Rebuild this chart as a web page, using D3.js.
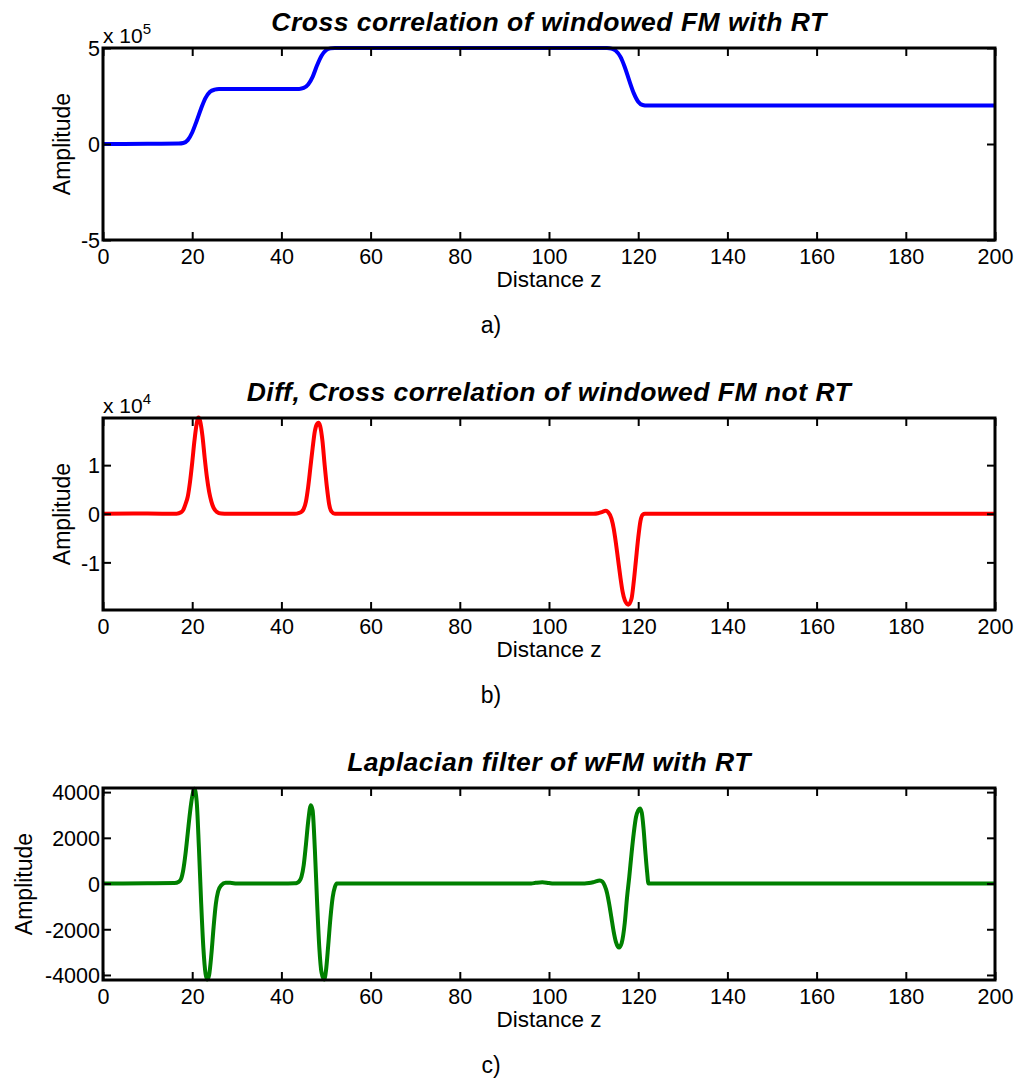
<!DOCTYPE html>
<html>
<head>
<meta charset="utf-8">
<script src="https://cdn.jsdelivr.net/npm/d3@7"></script>
<style>
  html, body { margin: 0; padding: 0; background: #fff; }
  svg { display: block; }
  text { font-family: "Liberation Sans", Arial, Helvetica, sans-serif; fill: #000; }
</style>
</head>
<body>
<svg id="fig" width="1021" height="1083"></svg>
<script>
// ---- data ----------------------------------------------------------------
const xTicks = [0, 20, 40, 60, 80, 100, 120, 140, 160, 180, 200];

// a) cross correlation (units of 1e5)
const crossZ = [0, 10, 17, 18, 19, 20, 21, 22, 23, 24, 25, 26, 30, 44, 45, 46, 47, 48, 49, 50, 51, 52, 60, 112, 113, 114, 115, 116, 117, 118, 119, 120, 121, 122, 200];
const crossAmp = [0, 0.01, 0.02, 0.05, 0.2, 0.6, 1.2, 1.85, 2.4, 2.72, 2.83, 2.86, 2.86, 2.87, 2.92, 3.1, 3.5, 4.1, 4.6, 4.88, 4.98, 5.0, 5.0, 5.0, 5.0, 4.97, 4.85, 4.55, 4.0, 3.3, 2.65, 2.2, 2.03, 2.0, 2.0];
const crossYTicks = [-5, 0, 5];

// b) difference of the cross correlation (units of 1e4)
const diffZ = [0, 10, 16.5, 17.5, 18, 18.5, 19, 19.5, 20, 20.5, 21, 21.4, 21.8, 22.3, 22.8, 23.3, 23.8, 24.3, 24.8, 25.5, 26.5, 28,
  43, 44, 44.5, 45, 45.5, 46, 46.5, 47, 47.5, 48, 48.3, 48.7, 49.2, 49.7, 50.2, 50.7, 51.2, 52,
  110, 111, 112, 112.7, 113.3, 114, 114.5, 115, 115.5, 116, 116.5, 117, 117.8, 118.5, 119, 119.5, 120, 120.5, 121, 121.5, 200];
const diffAmp = [0, 0.005, 0, 0.03, 0.08, 0.2, 0.35, 0.65, 1.05, 1.5, 1.85, 1.98, 1.9, 1.6, 1.15, 0.75, 0.45, 0.25, 0.12, 0.04, 0.005, 0,
  0, 0.02, 0.04, 0.1, 0.25, 0.55, 0.95, 1.35, 1.7, 1.85, 1.87, 1.8, 1.5, 1.0, 0.55, 0.2, 0.05, 0,
  0, 0.01, 0.04, 0.06, 0.03, -0.1, -0.3, -0.6, -0.95, -1.3, -1.6, -1.78, -1.87, -1.75, -1.4, -0.95, -0.5, -0.15, -0.02, 0, 0];
const diffYTicks = [-1, 0, 1];

// c) Laplacian filter output
const lapZ = [0, 10, 16, 17, 17.5, 18, 18.5, 19, 19.5, 20, 20.5, 21, 21.5, 22, 22.5, 23, 23.4, 23.8, 24.3, 24.8, 25.3, 25.8, 26.5, 27.5, 28.5, 30,
  40, 43, 43.5, 44, 44.5, 45, 45.5, 46, 46.6, 47, 47.5, 48, 48.5, 49, 49.6, 50, 50.5, 51, 51.5, 52, 52.4,
  60, 96, 97, 98.5, 100, 101, 108, 109, 110, 111.4, 112, 112.5, 113, 113.5, 114, 114.5, 115, 115.7, 116.3, 117, 117.5,
  118, 118.5, 119, 119.5, 120, 120.4, 120.8, 121.2, 121.6, 122, 122.3, 200];
const lapAmp = [0, 10, 20, 80, 200, 600, 1300, 2200, 3100, 3800, 4150, 3600, 1600, -800, -2800, -3950, -4200, -4000, -3100, -1900, -900, -350, -80, 30, 30, 0,
  0, 10, 30, 100, 300, 800, 1700, 2700, 3430, 3200, 1500, -800, -2800, -3900, -4200, -3800, -2700, -1500, -600, -150, 0,
  0, 0, 30, 60, 20, 0, 0, 20, 60, 130, 80, -100, -400, -900, -1500, -2100, -2550, -2800, -2600, -1700, -600,
  300, 1300, 2200, 2900, 3200, 3280, 3100, 2400, 1400, 500, 0, 0];
const lapYTicks = [-4000, -2000, 0, 2000, 4000];

// ---- layout ----------------------------------------------------------------
const svg = d3.select("#fig");
const left = 103, right = 995, plotH = 192;

const panels = [
  { top: 48, title: "Cross correlation of windowed FM with RT", tag: "a)",
    xs: crossZ, ys: crossAmp, yDomain: [-5, 5], yTicks: crossYTicks, color: "#0000ff", exp: "5", labelX: 70 },
  { top: 418, title: "Diff, Cross correlation of windowed FM not RT", tag: "b)",
    xs: diffZ, ys: diffAmp, yDomain: [-1.98, 1.97], yTicks: diffYTicks, color: "#ff0000", exp: "4", labelX: 70 },
  { top: 788, title: "Laplacian filter of wFM with RT", tag: "c)",
    xs: lapZ, ys: lapAmp, yDomain: [-4220, 4180], yTicks: lapYTicks, color: "#008000", exp: null, labelX: 32 }
];

const x = d3.scaleLinear().domain([0, 200]).range([left, right]);
const plain = d => String(d);   // ASCII hyphen for negatives

panels.forEach(p => {
  const bottom = p.top + plotH;
  const y = d3.scaleLinear().domain(p.yDomain).range([bottom, p.top]);
  const g = svg.append("g");

  // data line
  const pts = p.xs.map((v, i) => [v, p.ys[i]]);
  g.append("path")
    .datum(pts)
    .attr("fill", "none")
    .attr("stroke", p.color)
    .attr("stroke-width", 4)
    .attr("stroke-linejoin", "round")
    .attr("d", d3.line().x(d => x(d[0])).y(d => y(d[1])).curve(d3.curveMonotoneX));

  // axes (ticks pointing inward on all four sides)
  const tickLen = 8;
  const axB = g.append("g").attr("transform", `translate(0,${bottom})`)
    .call(d3.axisBottom(x).tickValues(xTicks).tickSize(-tickLen).tickPadding(9).tickFormat(plain));
  const axT = g.append("g").attr("transform", `translate(0,${p.top})`)
    .call(d3.axisTop(x).tickValues(xTicks).tickSize(-tickLen).tickFormat(""));
  const axL = g.append("g").attr("transform", `translate(${left},0)`)
    .call(d3.axisLeft(y).tickValues(p.yTicks).tickSize(-tickLen).tickPadding(3).tickFormat(plain));
  const axR = g.append("g").attr("transform", `translate(${right},0)`)
    .call(d3.axisRight(y).tickValues(p.yTicks).tickSize(-tickLen).tickFormat(""));

  [axB, axT, axL, axR].forEach(a => {
    a.select(".domain").remove();
    a.selectAll(".tick line").attr("stroke", "#000").attr("stroke-width", 2);
    a.selectAll(".tick text").attr("font-size", 21.5).attr("fill", "#000")
      .style("font-family", '"Liberation Sans", Arial, sans-serif');
  });
  axB.selectAll(".tick text").attr("dy", "0.71em");
  axL.selectAll(".tick text").attr("dy", "0.36em");

  // box
  g.append("rect")
    .attr("x", left).attr("y", p.top)
    .attr("width", right - left).attr("height", plotH)
    .attr("fill", "none").attr("stroke", "#000").attr("stroke-width", 3);

  // title
  g.append("text")
    .attr("x", (left + right) / 2).attr("y", p.top - 17)
    .attr("text-anchor", "middle")
    .attr("font-size", 26.5).attr("font-weight", "bold").attr("font-style", "italic")
    .attr("letter-spacing", 0.5)
    .text(p.title);

  // exponent marker
  if (p.exp) {
    const t = g.append("text").attr("x", left).attr("y", p.top - 5).attr("font-size", 21);
    t.append("tspan").text("x 10");
    t.append("tspan").attr("font-size", 15).attr("dy", -9).text(p.exp);
  }

  // axis labels
  g.append("text")
    .attr("x", (left + right) / 2).attr("y", bottom + 47)
    .attr("text-anchor", "middle").attr("font-size", 22.5)
    .text("Distance z");
  g.append("text")
    .attr("transform", `translate(${p.labelX},${p.top + plotH / 2}) rotate(-90)`)
    .attr("text-anchor", "middle").attr("font-size", 23)
    .text("Amplitude");

  // panel tag
  g.append("text")
    .attr("x", 491).attr("y", bottom + 93)
    .attr("text-anchor", "middle").attr("font-size", 23)
    .text(p.tag);
});
</script>
</body>
</html>
